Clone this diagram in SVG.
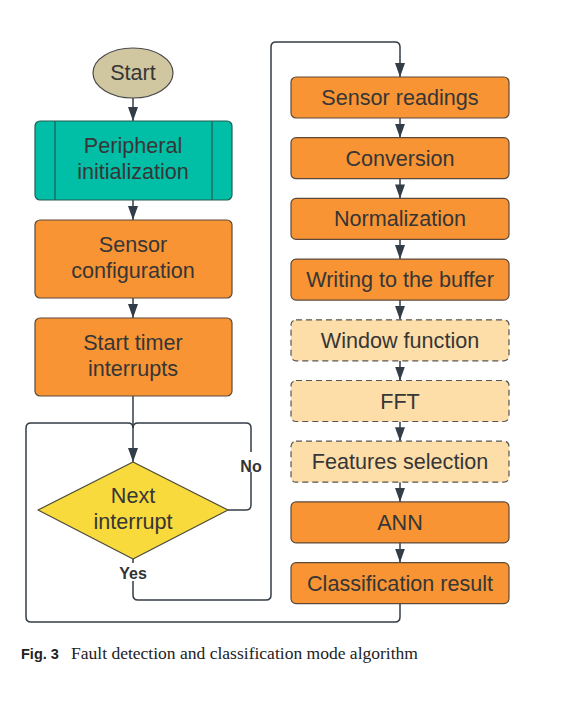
<svg xmlns="http://www.w3.org/2000/svg" width="587" height="703" viewBox="0 0 587 703">
<defs>
<marker id="arr" viewBox="0 0 14 10" markerWidth="14" markerHeight="10" refX="14" refY="5" orient="auto" markerUnits="userSpaceOnUse">
<path d="M0,0 L14,5 L0,10 z" fill="#333d47"/>
</marker>
<style>
.t{font-family:"Liberation Sans",Arial,sans-serif;font-size:21.6px;fill:#363636;text-anchor:middle}
.lb{font-family:"Liberation Sans",Arial,sans-serif;font-size:16px;font-weight:bold;fill:#333;text-anchor:middle}
.or{fill:#F89433;stroke:#5b4a3c;stroke-width:1.2}
.lo{fill:#FDDDA8;stroke:#555;stroke-width:1.2;stroke-dasharray:6,4}
.c{fill:none;stroke:#333d47;stroke-width:1.5}
</style>
</defs>
<rect width="587" height="703" fill="#ffffff"/>
<g id="connectors">
<path class="c" d="M133,98 L133,121" marker-end="url(#arr)"/>
<path class="c" d="M133,200 L133,220" marker-end="url(#arr)"/>
<path class="c" d="M133,298 L133,318" marker-end="url(#arr)"/>
<path class="c" d="M133,396 L133,462" marker-end="url(#arr)"/>
<path class="c" d="M228,510 L246,510 Q251,510 251,505 L251,428 Q251,423 246,423 L138,423 Q133,423 133,428"/>
<path class="c" d="M400,603.6 L400,617 Q400,622 395,622 L31,622 Q26,622 26,617 L26,428 Q26,423 31,423 L128,423 Q133,423 133,428"/>
<path class="c" d="M133,559 L133,595 Q133,600 138,600 L266,600 Q271,600 271,595 L271,47 Q271,42 276,42 L395,42 Q400,42 400,47 L400,77" marker-end="url(#arr)"/>
<path class="c" d="M400,118 L400,137.7" marker-end="url(#arr)"/>
<path class="c" d="M400,178.7 L400,198.4" marker-end="url(#arr)"/>
<path class="c" d="M400,239.4 L400,259.1" marker-end="url(#arr)"/>
<path class="c" d="M400,300.1 L400,319.8" marker-end="url(#arr)"/>
<path class="c" d="M400,360.8 L400,380.5" marker-end="url(#arr)"/>
<path class="c" d="M400,421.5 L400,441.2" marker-end="url(#arr)"/>
<path class="c" d="M400,482.2 L400,501.9" marker-end="url(#arr)"/>
<path class="c" d="M400,542.9 L400,562.6" marker-end="url(#arr)"/>
<rect x="238" y="452" width="26" height="20" fill="#ffffff"/>
<text class="lb" x="251" y="472">No</text>
<rect x="116" y="563" width="34" height="18" fill="#ffffff"/>
<text class="lb" x="133" y="579">Yes</text>
</g>
<g id="start">
<ellipse cx="133" cy="73" rx="40" ry="25" fill="#D0C6A0" stroke="#4a4a4a" stroke-width="1.2"/>
<text class="t" x="133" y="80">Start</text>
</g>
<g id="peripheral">
<rect x="35" y="121" width="197" height="79" rx="5" fill="#00BFA6" stroke="#245c52" stroke-width="1.2"/>
<line x1="55" y1="121" x2="55" y2="200" stroke="#245c52" stroke-width="1.2"/>
<line x1="212" y1="121" x2="212" y2="200" stroke="#245c52" stroke-width="1.2"/>
<text class="t" x="133" y="153">Peripheral</text>
<text class="t" x="133" y="179">initialization</text>
</g>
<g id="sensorconfig">
<rect class="or" x="35" y="220" width="197" height="78" rx="5"/>
<text class="t" x="133" y="252">Sensor</text>
<text class="t" x="133" y="278">configuration</text>
</g>
<g id="starttimer">
<rect class="or" x="35" y="318" width="197" height="78" rx="5"/>
<text class="t" x="133" y="350">Start timer</text>
<text class="t" x="133" y="376">interrupts</text>
</g>
<g id="decision">
<path d="M133,462 L228,510 L133,559 L38,510 Z" fill="#F8DA3C" stroke="#4a4a3a" stroke-width="1.2" stroke-linejoin="round"/>
<text class="t" x="133" y="503">Next</text>
<text class="t" x="133" y="529">interrupt</text>
</g>
<g id="sensorreadings">
<rect class="or" x="291" y="77" width="218" height="41" rx="5"/>
<text class="t" x="400" y="105">Sensor readings</text>
</g>
<g id="conversion">
<rect class="or" x="291" y="137.7" width="218" height="41" rx="5"/>
<text class="t" x="400" y="165.7">Conversion</text>
</g>
<g id="normalization">
<rect class="or" x="291" y="198.4" width="218" height="41" rx="5"/>
<text class="t" x="400" y="226.4">Normalization</text>
</g>
<g id="writing">
<rect class="or" x="291" y="259.1" width="218" height="41" rx="5"/>
<text class="t" x="400" y="287.1">Writing to the buffer</text>
</g>
<g id="window">
<rect class="lo" x="291" y="319.8" width="218" height="41" rx="5"/>
<text class="t" x="400" y="347.8">Window function</text>
</g>
<g id="fft">
<rect class="lo" x="291" y="380.5" width="218" height="41" rx="5"/>
<text class="t" x="400" y="408.5">FFT</text>
</g>
<g id="features">
<rect class="lo" x="291" y="441.2" width="218" height="41" rx="5"/>
<text class="t" x="400" y="469.2">Features selection</text>
</g>
<g id="ann">
<rect class="or" x="291" y="501.9" width="218" height="41" rx="5"/>
<text class="t" x="400" y="529.9">ANN</text>
</g>
<g id="classification">
<rect class="or" x="291" y="562.6" width="218" height="41" rx="5"/>
<text class="t" x="400" y="590.6">Classification result</text>
</g>
<g id="caption">
<text x="21" y="659" font-family="Liberation Sans,Arial,sans-serif" font-size="14.5" font-weight="bold" fill="#222">Fig. 3</text>
<text x="71" y="659" font-family="Liberation Serif,Times New Roman,serif" font-size="17.5" fill="#222" textLength="347" lengthAdjust="spacingAndGlyphs">Fault detection and classification mode algorithm</text>
</g>
</svg>
